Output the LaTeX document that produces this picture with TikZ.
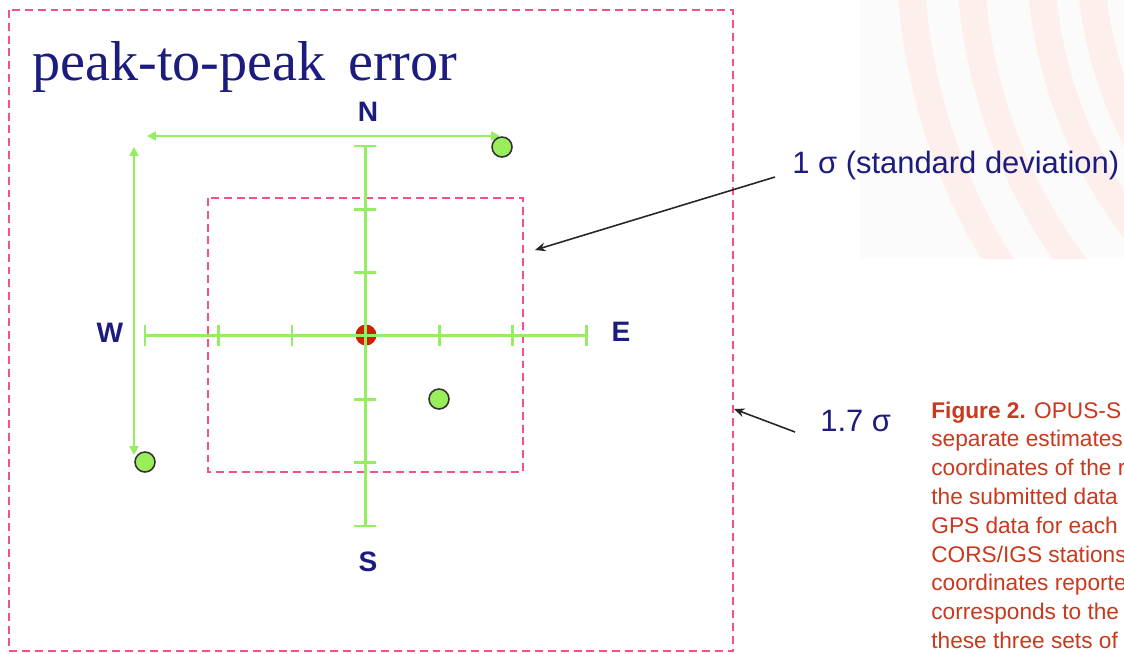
\documentclass[tikz,border=0pt]{standalone}
\usepackage{fontspec}
\setmainfont{Liberation Serif}
\setsansfont{Liberation Sans}
\usetikzlibrary{positioning, arrows.meta}
\definecolor{navy}{HTML}{1C1C7E}
\definecolor{axisgreen}{HTML}{94EE62}
\definecolor{dotgreen}{HTML}{9AEE5A}
\definecolor{pinkdash}{HTML}{F5508C}
\definecolor{centerred}{HTML}{CC2200}
\definecolor{captionred}{HTML}{C8391E}
\definecolor{ripple}{HTML}{FDF0EC}
\definecolor{haze}{HTML}{FCFBFB}

\begin{document}
\begin{tikzpicture}[
    x=0.02cm, y=-0.02cm,
    sigmabox/.style={draw=pinkdash, line width=1.1pt, dash pattern=on 4.5pt off 2.8pt},
    axis/.style={axisgreen, line width=1.7pt},
    spread/.style={axisgreen, line width=1.7pt,
                   {Triangle[length=5pt, width=5pt]}-{Triangle[length=5pt, width=5pt]}},
    fix/.style={circle, draw=black!80, line width=0.9pt, fill=dotgreen,
                minimum size=0.4cm, inner sep=0pt},
    compass/.style={text=navy, font=\sffamily\bfseries\fontsize{16}{19}\selectfont},
    sigmalabel/.style={text=navy, font=\sffamily\fontsize{17.6}{20}\selectfont,
                       inner sep=0pt, anchor=base west},
    pointer/.style={-{Stealth[length=6pt, width=5pt]}, line width=0.9pt, black!85},
    captext/.style={text=captionred, font=\sffamily\fontsize{12.9}{15}\selectfont,
                    inner sep=0pt, anchor=base west}
  ]
    \useasboundingbox (0,0) rectangle (1124,653);
    \fill[white] (0,0) rectangle (1124,653);

    \begin{scope}
      \clip (860,0) rectangle (1124,258);
      \fill[haze] (860,0) rectangle (1124,258);
      \foreach \r in {8.2, 9.2, 10.6, 11.8}
        \draw[ripple, line width=0.55cm] (1500,-50) circle[radius=\r cm];
    \end{scope}

    \node[anchor=base west, inner sep=0pt, text=navy, font=\fontsize{32}{36}\selectfont]
      (title) at (32,80) {peak-to-peak\hspace{0.4em}error};

    \draw[sigmabox] (9,10) rectangle (733,651);
    \draw[sigmabox] (208,198) rectangle (523,472);

    \node[circle, fill=centerred, minimum size=0.42cm, inner sep=0pt] (origin) at (366,335) {};

    \draw[axis] (145,335) -- (586,335);
    \draw[axis] (365,146) -- (365,526);
    \foreach \i in {0,...,6} {
      \draw[axis] (145+73.5*\i,324.5) -- (145+73.5*\i,345.5);
      \draw[axis] (354,146+63.33*\i) -- (376,146+63.33*\i);
    }

    \coordinate (westend) at (147,136);
    \coordinate (eastend) at (500,136);
    \coordinate (northend) at (134,147);
    \coordinate (southend) at (134,455);
    \draw[spread] (westend) -- (eastend);
    \draw[spread] (northend) -- (southend);

    \node[fix] (p1) at (502,147) {};
    \node[fix] (p2) at (439,399) {};
    \node[fix] (p3) at (145,462) {};

    \node[compass] (nlabel) at (368,112) {N};
    \node[compass] (slabel) at (368,562) {S};
    \node[compass] (wlabel) at (110,333) {W};
    \node[compass] (elabel) at (621,332) {E};

    \node[sigmalabel] (onesigma) at (792,173) {1 σ (standard deviation)};
    \node[sigmalabel] (widesigma) at (820,431) {1.7 σ};

    \coordinate (innerhit) at (535,250);
    \coordinate (outerhit) at (734,409);
    \draw[pointer] ([shift={(-17,4)}]onesigma.base west) -- (innerhit);
    \draw[pointer] ([shift={(-25,1)}]widesigma.base west) -- (outerhit);

    \begin{scope}
      \clip (900,380) rectangle (1124,653);
      \foreach \txt [count=\i] in {\textbf{Figure 2.} OPUS-S, separate estimates,
          coordinates of the r, the submitted data, GPS data for each,
          CORS/IGS stations, coordinates reporte, corresponds to the,
          these three sets of}
        \node[captext] (cap\i) at (931,418+28.8*\i-28.8) {\txt};
    \end{scope}
  \end{tikzpicture}
\end{document}
